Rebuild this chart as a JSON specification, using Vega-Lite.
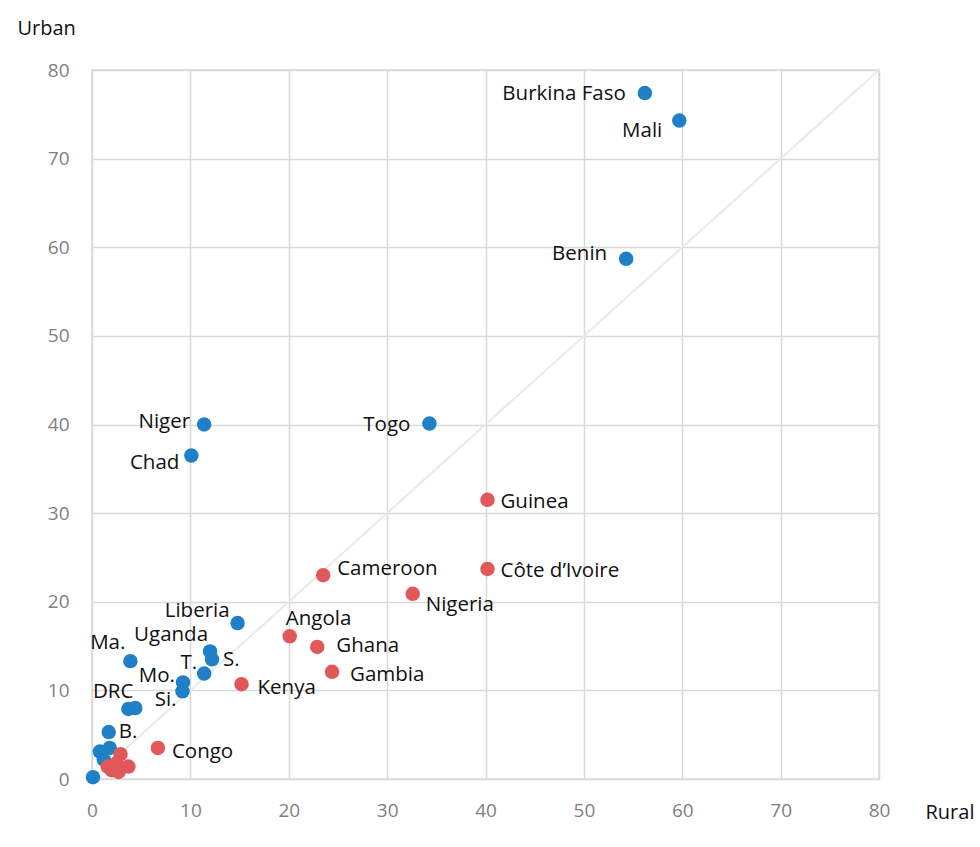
{
  "$schema": "https://vega.github.io/schema/vega-lite/v6.json",
  "width": 787,
  "height": 709,
  "autosize": {"type": "none"},
  "padding": {"left": 92, "top": 70, "right": 101, "bottom": 68},
  "background": "white",
  "config": {
    "font": "Open Sans",
    "view": {"stroke": "#d9d9d9", "strokeWidth": 1.5},
    "axis": {"grid": true, "gridColor": "#d9d9d9", "gridWidth": 1.5, "domain": false, "ticks": false, "labelFlush": false,
             "labelFont": "Open Sans", "labelFontSize": 19, "labelColor": "#7f7f7f",
             "titleFont": "Open Sans", "titleFontSize": 20, "titleFontWeight": "normal", "titleColor": "#111111"},
    "text": {"fontSize": 20.5, "color": "#111111", "baseline": "middle"}
  },
  "datasets": {
    "pts": [
      {"country": "Burkina Faso", "rural": 56.2, "urban": 77.4, "group": "A"},
      {"country": "Mali", "rural": 59.7, "urban": 74.3, "group": "A"},
      {"country": "Benin", "rural": 54.3, "urban": 58.7, "group": "A"},
      {"country": "Togo", "rural": 34.3, "urban": 40.1, "group": "A"},
      {"country": "Niger", "rural": 11.4, "urban": 40.0, "group": "A"},
      {"country": "Chad", "rural": 10.1, "urban": 36.5, "group": "A"},
      {"country": "Liberia", "rural": 14.8, "urban": 17.6, "group": "A"},
      {"country": "Uganda", "rural": 12.0, "urban": 14.4, "group": "A"},
      {"country": "S.", "rural": 12.2, "urban": 13.5, "group": "A"},
      {"country": "T.", "rural": 11.4, "urban": 11.9, "group": "A"},
      {"country": "Ma.", "rural": 3.9, "urban": 13.3, "group": "A"},
      {"country": "Mo.", "rural": 9.25, "urban": 10.9, "group": "A"},
      {"country": "Si.", "rural": 9.2, "urban": 9.9, "group": "A"},
      {"country": "DRC", "rural": 3.7, "urban": 7.9, "group": "A"},
      {"country": "", "rural": 4.4, "urban": 8.0, "group": "A"},
      {"country": "B.", "rural": 1.7, "urban": 5.3, "group": "A"},
      {"country": "", "rural": 0.8, "urban": 3.1, "group": "A"},
      {"country": "", "rural": 1.8, "urban": 3.5, "group": "A"},
      {"country": "", "rural": 1.2, "urban": 2.2, "group": "A"},
      {"country": "", "rural": 0.1, "urban": 0.2, "group": "A"},
      {"country": "Guinea", "rural": 40.2, "urban": 31.5, "group": "B"},
      {"country": "Côte d’Ivoire", "rural": 40.2, "urban": 23.7, "group": "B"},
      {"country": "Cameroon", "rural": 23.5, "urban": 23.0, "group": "B"},
      {"country": "Nigeria", "rural": 32.6, "urban": 20.9, "group": "B"},
      {"country": "Angola", "rural": 20.1, "urban": 16.1, "group": "B"},
      {"country": "Ghana", "rural": 22.9, "urban": 14.9, "group": "B"},
      {"country": "Gambia", "rural": 24.4, "urban": 12.1, "group": "B"},
      {"country": "Kenya", "rural": 15.2, "urban": 10.7, "group": "B"},
      {"country": "Congo", "rural": 6.7, "urban": 3.5, "group": "B"},
      {"country": "", "rural": 2.9, "urban": 2.8, "group": "B"},
      {"country": "", "rural": 1.6, "urban": 1.4, "group": "B"},
      {"country": "", "rural": 2.5, "urban": 1.8, "group": "B"},
      {"country": "", "rural": 3.7, "urban": 1.4, "group": "B"},
      {"country": "", "rural": 2.7, "urban": 0.8, "group": "B"},
      {"country": "", "rural": 2.0, "urban": 1.0, "group": "B"}
    ],
    "diag": [{"rural": 0, "urban": 0}, {"rural": 80, "urban": 80}]
  },
  "data": {"name": "pts"},
  "encoding": {
    "x": {"field": "rural", "type": "quantitative", "scale": {"domain": [0, 80], "nice": false},
          "axis": {"values": [0, 10, 20, 30, 40, 50, 60, 70, 80], "title": "Rural", "labelPadding": 22,
                   "titleAngle": 0, "titleAlign": "left", "titleBaseline": "middle", "titleX": 833, "titleY": 33}},
    "y": {"field": "urban", "type": "quantitative", "scale": {"domain": [0, 80], "nice": false},
          "axis": {"values": [0, 10, 20, 30, 40, 50, 60, 70, 80], "title": "Urban", "labelPadding": 23,
                   "titleAngle": 0, "titleAlign": "left", "titleBaseline": "middle", "titleX": -75, "titleY": -42}}
  },
  "layer": [
    {"data": {"name": "diag"}, "mark": {"type": "line", "color": "#e9e9e9", "strokeWidth": 2}, "encoding": {}},
    {"mark": {"type": "circle", "size": 210, "opacity": 1},
     "encoding": {"color": {"field": "group", "type": "nominal", "legend": null,
                            "scale": {"domain": ["A", "B"], "range": ["#1f80c8", "#e1575a"]}}}},
    {"transform": [{"filter": "datum.country == 'Burkina Faso' || datum.country == 'Togo'"}],
     "mark": {"type": "text", "align": "right", "dx": -19, "dy": 1},
     "encoding": {"text": {"field": "country"}}},
    {"transform": [{"filter": "datum.country == 'Mali'"}],
     "mark": {"type": "text", "align": "right", "dx": -17, "dy": 10},
     "encoding": {"text": {"field": "country"}}},
    {"transform": [{"filter": "datum.country == 'Benin'"}],
     "mark": {"type": "text", "align": "right", "dx": -19, "dy": -5},
     "encoding": {"text": {"field": "country"}}},
    {"transform": [{"filter": "datum.country == 'Niger'"}],
     "mark": {"type": "text", "align": "right", "dx": -14, "dy": -3},
     "encoding": {"text": {"field": "country"}}},
    {"transform": [{"filter": "datum.country == 'Chad'"}],
     "mark": {"type": "text", "align": "right", "dx": -12, "dy": 7},
     "encoding": {"text": {"field": "country"}}},
    {"transform": [{"filter": "datum.country == 'Liberia'"}],
     "mark": {"type": "text", "align": "right", "dx": -8, "dy": -12},
     "encoding": {"text": {"field": "country"}}},
    {"transform": [{"filter": "datum.country == 'Uganda'"}],
     "mark": {"type": "text", "align": "right", "dx": -2, "dy": -16},
     "encoding": {"text": {"field": "country"}}},
    {"transform": [{"filter": "datum.country == 'Ma.'"}],
     "mark": {"type": "text", "align": "right", "dx": -5, "dy": -18},
     "encoding": {"text": {"field": "country"}}},
    {"transform": [{"filter": "datum.country == 'T.'"}],
     "mark": {"type": "text", "align": "right", "dx": -7, "dy": -11},
     "encoding": {"text": {"field": "country"}}},
    {"transform": [{"filter": "datum.country == 'Mo.'"}],
     "mark": {"type": "text", "align": "right", "dx": -8, "dy": -6},
     "encoding": {"text": {"field": "country"}}},
    {"transform": [{"filter": "datum.country == 'Si.'"}],
     "mark": {"type": "text", "align": "right", "dx": -6, "dy": 9},
     "encoding": {"text": {"field": "country"}}},
    {"transform": [{"filter": "datum.country == 'DRC'"}],
     "mark": {"type": "text", "align": "right", "dx": 5, "dy": -17},
     "encoding": {"text": {"field": "country"}}},
    {"transform": [{"filter": "datum.country == 'S.'"}],
     "mark": {"type": "text", "align": "left", "dx": 11, "dy": 1},
     "encoding": {"text": {"field": "country"}}},
    {"transform": [{"filter": "datum.country == 'B.'"}],
     "mark": {"type": "text", "align": "left", "dx": 10, "dy": 0},
     "encoding": {"text": {"field": "country"}}},
    {"transform": [{"filter": "datum.country == 'Guinea' || datum.country == 'Côte d’Ivoire'"}],
     "mark": {"type": "text", "align": "left", "dx": 13, "dy": 2},
     "encoding": {"text": {"field": "country"}}},
    {"transform": [{"filter": "datum.country == 'Cameroon'"}],
     "mark": {"type": "text", "align": "left", "dx": 14, "dy": -6},
     "encoding": {"text": {"field": "country"}}},
    {"transform": [{"filter": "datum.country == 'Nigeria'"}],
     "mark": {"type": "text", "align": "left", "dx": 13, "dy": 11},
     "encoding": {"text": {"field": "country"}}},
    {"transform": [{"filter": "datum.country == 'Angola'"}],
     "mark": {"type": "text", "align": "left", "dx": -4, "dy": -17},
     "encoding": {"text": {"field": "country"}}},
    {"transform": [{"filter": "datum.country == 'Ghana'"}],
     "mark": {"type": "text", "align": "left", "dx": 19, "dy": -1},
     "encoding": {"text": {"field": "country"}}},
    {"transform": [{"filter": "datum.country == 'Gambia'"}],
     "mark": {"type": "text", "align": "left", "dx": 18, "dy": 3},
     "encoding": {"text": {"field": "country"}}},
    {"transform": [{"filter": "datum.country == 'Kenya'"}],
     "mark": {"type": "text", "align": "left", "dx": 16, "dy": 4},
     "encoding": {"text": {"field": "country"}}},
    {"transform": [{"filter": "datum.country == 'Congo'"}],
     "mark": {"type": "text", "align": "left", "dx": 14, "dy": 4},
     "encoding": {"text": {"field": "country"}}}
  ]
}
